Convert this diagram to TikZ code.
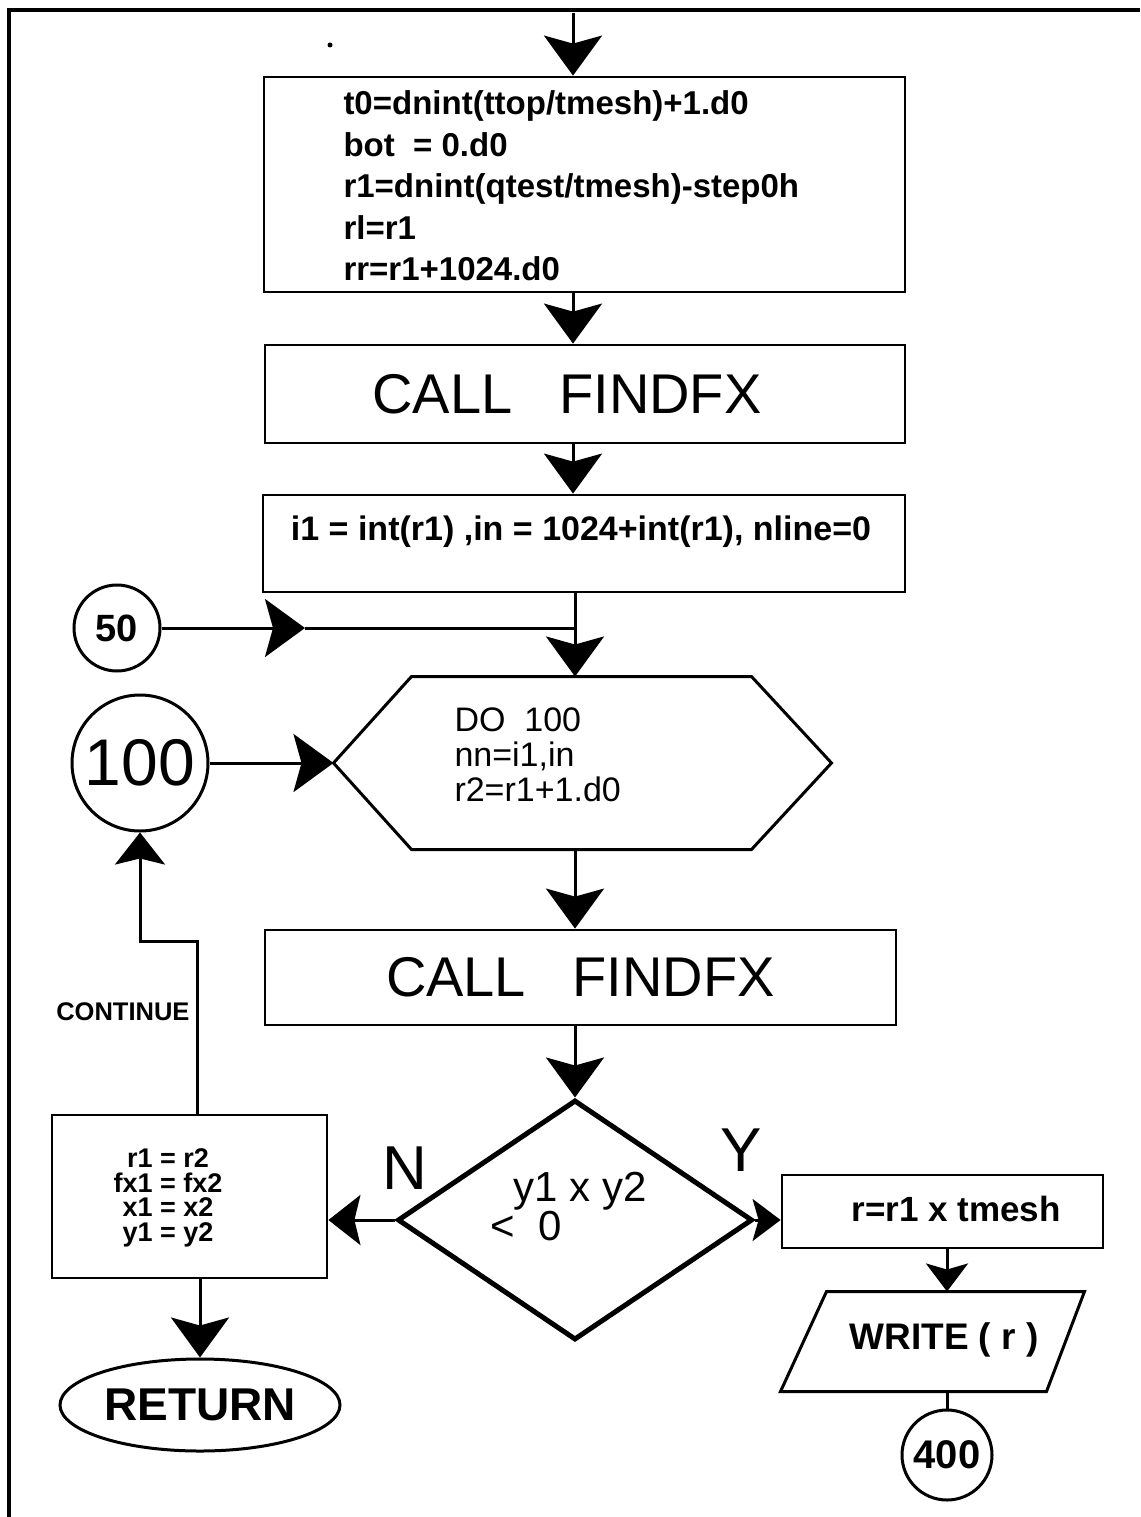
\documentclass[tikz,border=0pt]{standalone}
\usepackage{fontspec}
\setmainfont{Liberation Sans}
\usetikzlibrary{arrows.meta,shapes.geometric,calc}
\begin{document}
\begin{tikzpicture}[x=1pt,y=-1pt,
  line width=3pt,
  box/.style={draw,rectangle,line width=2.8pt,inner sep=0pt},
  conn/.style={circle,draw,line width=3pt,inner sep=0pt},
  arr/.style={-{Stealth[length=40pt,width=58pt,inset=8pt]}},
  marr/.style={-{Stealth[length=32pt,width=50pt,inset=6pt]}},
  sarr/.style={-{Stealth[length=28pt,width=42pt,inset=6pt]}},
  fs/.style={font=\fontsize{#1}{#1}\selectfont},
  fb/.style={font=\bfseries\fontsize{#1}{#1}\selectfont},
]
\useasboundingbox (0,0) rectangle (1140,1517);
\draw[line width=3.5pt] (9,1517) -- (9,10) -- (1140,10);
\fill (330,45) circle (2.5pt);

% box 1
\node[box,minimum width=641pt,minimum height=215pt] (b1) at (584.5,184.5) {};
\node[anchor=west,align=left,inner sep=0pt,font=\bfseries\fontsize{33}{41.5}\selectfont] (t1) at (342,186)
  {t0=dnint(ttop/tmesh)+1.d0\\bot\ \ = 0.d0\\r1=dnint(qtest/tmesh)-step0h\\rl=r1\\rr=r1+1024.d0};
\coordinate (top) at (573,13);
\draw[arr] (top) -- (top |- b1.north);

% box 2
\node[box,minimum width=640pt,minimum height=98pt] (b2) at (585,394) {};
\node[inner sep=0pt,fs=56] (t2) at (567,394) {CALL\ \ \ FINDFX};
\draw[arr] (b1.south -| top) -- (b2.north -| top);

% box 3
\node[box,minimum width=642pt,minimum height=97pt] (b3) at (584,543.5) {};
\node[inner sep=0pt,fb=34] (t3) at (581,532) {i1 = int(r1) ,in = 1024+int(r1), nline=0};
\draw[arr] (b2.south -| top) -- (b3.north -| top);

% hexagon
\node[minimum width=495pt,minimum height=170pt,inner sep=0pt] (hex) at (582.5,763) {};
\draw ($(hex.north west)+(78,0)$) -- ($(hex.north east)+(-80,0)$) -- (hex.east)
  -- ($(hex.south east)+(-80,0)$) -- ($(hex.south west)+(78,0)$) -- (hex.west) -- cycle;
\node[anchor=north west,align=left,inner sep=0pt,font=\fontsize{34}{35}\selectfont] (t4) at (453,706)
  {DO\ \ 100\\nn=i1,in\\r2=r1+1.d0};

% connector 50
\coordinate (j50) at (575,628);
\draw (b3.south -| j50) -- (j50);
\draw[arr] (j50) -- (hex.north -| j50);
\node[conn,minimum size=86pt,fb=38] (c50) at (117,628) {50};
\coordinate (tip50) at (305,628);
\draw[arr] (c50) -- (tip50);
\draw (tip50) -- (j50);

% connector 100
\node[conn,minimum size=136pt,fs=66] (c100) at (140,763) {100};
\draw[arr] (c100) -- (hex.west);

% box 4
\node[box,minimum width=631pt,minimum height=95pt,fs=56] (b4) at (580.5,977.5) {CALL\ \ \ FINDFX};
\draw[arr] (hex.south -| j50) -- (b4.north -| j50);

% decision
\node[diamond,draw,line width=5pt,minimum width=355pt,minimum height=240pt,inner sep=0pt] (dia) at (575,1220) {};
\node[align=left,inner sep=0pt,font=\fontsize{42}{38}\selectfont] (t5) at (580,1207) {y1 x y2\\\hspace*{-0.55em}<\ \ 0};
\draw[arr] (b4.south -| dia.north) -- (dia.north);
\node[fs=62,inner sep=0pt] (lN) at (405,1168) {N};
\node[fs=62,inner sep=0pt] (lY) at (741,1150) {Y};

% box 5
\node[box,minimum width=275pt,minimum height=163pt] (b5) at (189.5,1196.5) {};
\node[align=center,inner sep=0pt,font=\bfseries\fontsize{27}{24.5}\selectfont] (t6) at (168,1198)
  {r1 = r2\\fx1 = fx2\\x1 = x2\\y1 = y2};
\draw[marr] (dia.west) -- (b5.east |- dia.west);

% continue loop
\draw[marr] ($(b5.north)+(7.5,0)$) |- ($(c100.south)+(0,109)$) -- (c100.south);
\node[anchor=east,inner sep=0pt,font=\bfseries\fontsize{25.5}{25.5}\selectfont] (lc) at (191,1012) {CONTINUE};

% return
\node[ellipse,draw,minimum width=280pt,minimum height=92pt,inner sep=0pt,fb=46] (ret) at (200,1405) {RETURN};
\draw[arr] (b5.south -| ret.north) -- (ret.north);

% yes branch
\node[box,minimum width=321pt,minimum height=73pt] (b6) at (942.5,1211.5) {};
\node[inner sep=0pt,fb=35] (t7) at (956,1209) {r=r1 x tmesh};
\draw[sarr] (dia.east) -- (b6.west |- dia.east);
\node[conn,minimum size=90pt,fb=40] (c400) at (947,1455) {400};
\node[minimum width=301pt,minimum height=97pt,inner sep=0pt] (wr) at (932.5,1341.5) {};
\node[inner sep=0pt,fb=37] (t8) at (944,1340) {WRITE ( r )};
\draw ($(wr.north west)+(46,0)$) -- (wr.north east) -- ($(wr.south east)+(-38,0)$) -- (wr.south west) -- cycle;
\draw[sarr] (b6.south -| c400) -- (wr.north -| c400);
\draw (wr.south -| c400) -- (c400.north);
\end{tikzpicture}
\end{document}
